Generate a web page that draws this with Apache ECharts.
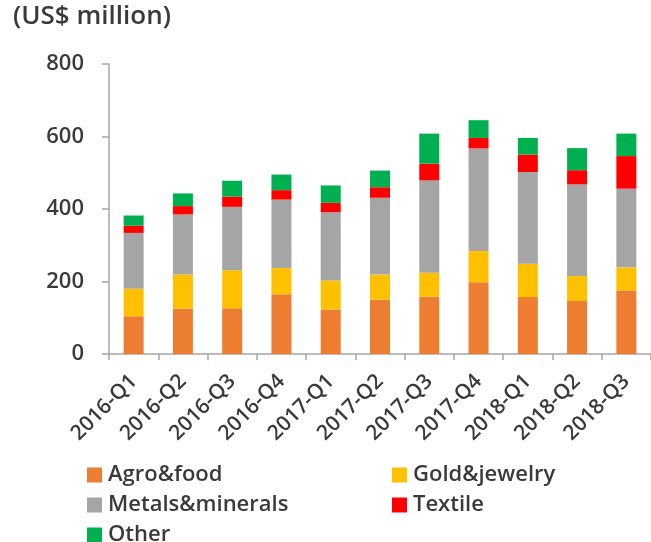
<!DOCTYPE html>
<html>
<head>
<meta charset="utf-8">
<script src="https://cdn.jsdelivr.net/npm/echarts@6/dist/echarts.min.js"></script>
<style>
  html, body { margin: 0; padding: 0; background: #fff; }
  #chart { width: 651px; height: 542px; }
</style>
</head>
<body>
<div id="chart"></div>
<script>
// Quarterly exports by product group (US$ million), stacked
const quarters = ['2016-Q1','2016-Q2','2016-Q3','2016-Q4','2017-Q1','2017-Q2','2017-Q3','2017-Q4','2018-Q1','2018-Q2','2018-Q3'];
const agroFood      = [104, 125, 126, 165, 123, 150, 158, 198, 157, 146, 175];
const goldJewelry   = [ 76,  94, 105,  72,  80,  69,  66,  86,  92,  69,  64];
const metalsMinerals= [154, 166, 175, 189, 188, 212, 255, 283, 253, 253, 217];
const textile       = [ 20,  23,  28,  26,  26,  29,  46,  29,  48,  39,  90];
const other         = [ 28,  35,  44,  43,  48,  46,  83,  49,  46,  61,  62];
const yTicks = { min: 0, max: 800, interval: 200 };

const FONT = '"Open Sans", "DejaVu Sans", sans-serif';
const TEXT = '#3a3a3a';
const AXIS = '#a6a6a6';

function bar(name, data, color) {
  return {
    name, type: 'bar', stack: 'total', data, barWidth: 20,
    itemStyle: { color },
    emphasis: { disabled: true }
  };
}

// one legend entry per box so the two-column layout stays fixed
function legendItem(name, left, top) {
  return {
    data: [name], left, top, padding: 0,
    itemWidth: 15, itemHeight: 15, icon: 'rect', itemGap: 0,
    selectedMode: false,
    textStyle: { fontFamily: FONT, fontSize: 22, fontWeight: 600, color: TEXT, padding: [0, 0, 0, 1] }
  };
}

const chart = echarts.init(document.getElementById('chart'), null, { renderer: 'canvas' });
chart.setOption({
  animation: false,
  backgroundColor: '#fff',
  title: {
    text: '(US$ million)', left: 13, top: 4, padding: 0,
    textStyle: { fontFamily: FONT, fontSize: 26, fontWeight: 600, color: TEXT }
  },
  grid: { left: 109, right: -9, top: 64, bottom: 188, containLabel: false },
  xAxis: {
    type: 'category', data: quarters,
    axisLine: { lineStyle: { color: AXIS, width: 1.5 } },
    axisTick: { show: true, length: 6, alignWithLabel: false, lineStyle: { color: AXIS, width: 1.5 } },
    axisLabel: {
      rotate: 45, margin: 24, interval: 0,
      fontFamily: FONT, fontSize: 21, fontWeight: 600, color: TEXT
    }
  },
  yAxis: {
    type: 'value', min: yTicks.min, max: yTicks.max, interval: yTicks.interval,
    axisLine: { show: true, lineStyle: { color: AXIS, width: 1.5 } },
    axisTick: { show: true, length: 7, lineStyle: { color: AXIS, width: 1.5 } },
    splitLine: { show: false },
    axisLabel: { margin: 25, fontFamily: FONT, fontSize: 22, fontWeight: 600, color: TEXT }
  },
  legend: [
    legendItem('Agro&food', 87, 464),
    legendItem('Metals&minerals', 87, 494),
    legendItem('Other', 87, 524),
    legendItem('Gold&jewelry', 392, 464),
    legendItem('Textile', 392, 494)
  ],
  series: [
    bar('Agro&food', agroFood, '#ed7d31'),
    bar('Gold&jewelry', goldJewelry, '#ffc000'),
    bar('Metals&minerals', metalsMinerals, '#a5a5a5'),
    bar('Textile', textile, '#ff0000'),
    bar('Other', other, '#00b050')
  ]
});
</script>
</body>
</html>
